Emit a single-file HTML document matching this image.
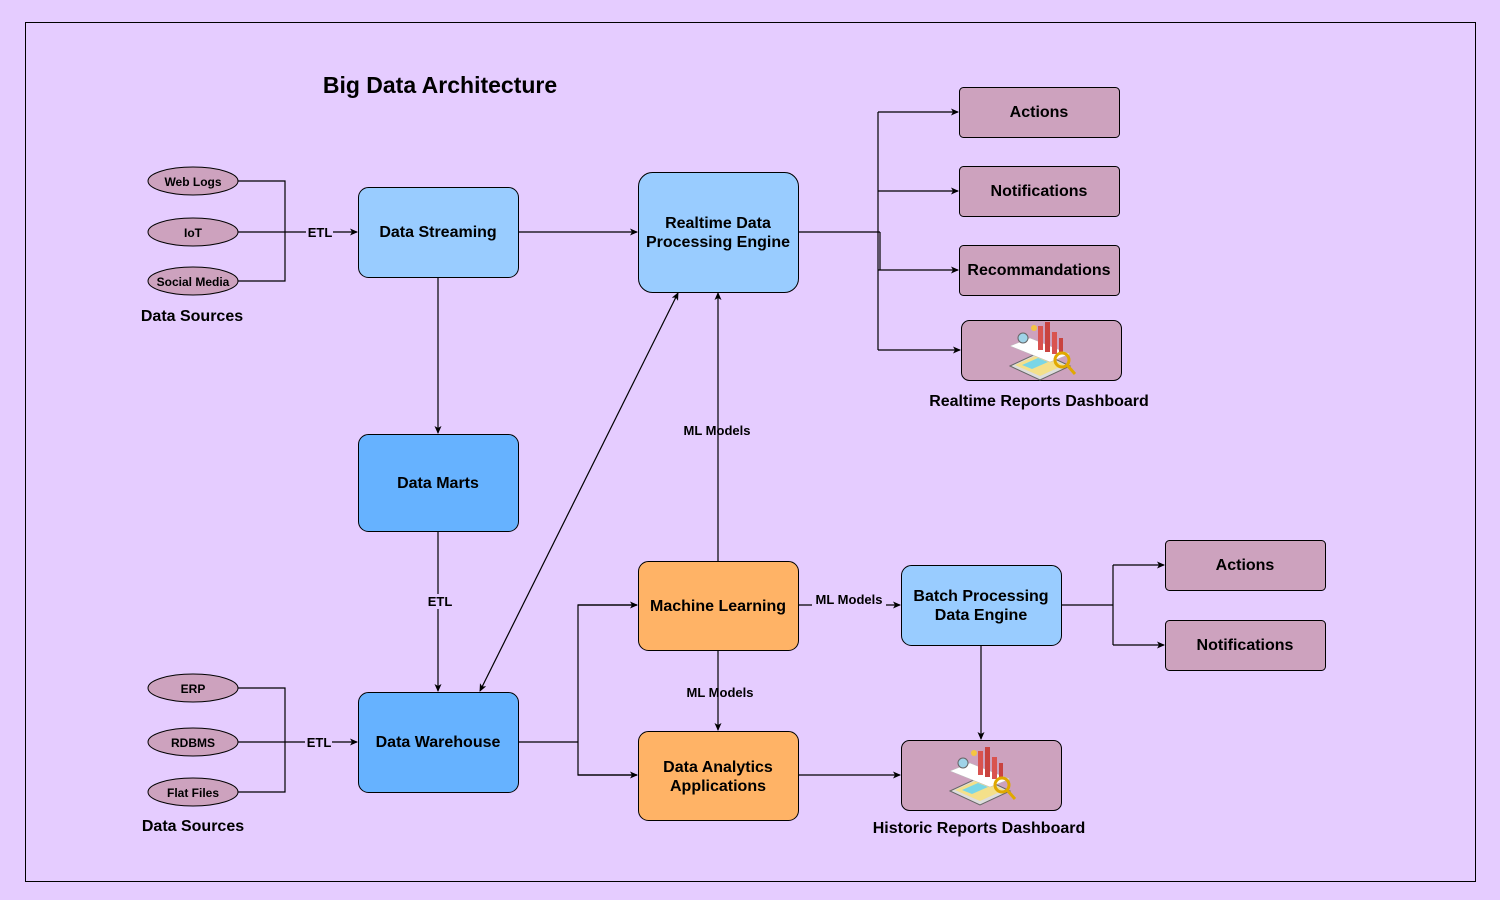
<!DOCTYPE html>
<html><head><meta charset="utf-8"><style>
html,body{margin:0;padding:0;background:#e5ccff;}
svg{display:block;font-family:"Liberation Sans",Arial,sans-serif;}
</style></head><body>
<svg width="1500" height="900" viewBox="0 0 1500 900" xmlns="http://www.w3.org/2000/svg">
<defs>
<marker id="a" markerWidth="8" markerHeight="8" refX="7" refY="4" orient="auto" markerUnits="userSpaceOnUse"><path d="M0,0.5 L8,4 L0,7.5 L2,4 Z" fill="#000"/></marker>
<marker id="s" markerWidth="8" markerHeight="8" refX="1" refY="4" orient="auto" markerUnits="userSpaceOnUse"><path d="M8,0.5 L0,4 L8,7.5 L6,4 Z" fill="#000"/></marker>
<g id="dash">
<polygon points="-30,18 0,4 30,18 0,32" fill="#ddd" stroke="#666" stroke-width="1"/>
<polygon points="-25,17 0,6 24,17 0,28" fill="#f4e08a"/>
<polygon points="-18,17 -2,10 8,14 -8,21" fill="#7ad6e6"/>
<polygon points="-30,-2 -10,-10 30,6 10,14" fill="#fff" stroke="#bbb" stroke-width="0.5"/>
<rect x="-2" y="-22" width="5" height="24" fill="#d9534f"/>
<rect x="5" y="-26" width="5" height="30" fill="#c9433f"/>
<rect x="12" y="-16" width="5" height="22" fill="#d9534f"/>
<rect x="19" y="-10" width="4" height="16" fill="#c9433f"/>
<circle cx="-17" cy="-10" r="5" fill="#9fd3e8" stroke="#666"/>
<circle cx="-6" cy="-20" r="3" fill="#f4c542"/>
<circle cx="22" cy="12" r="7" fill="none" stroke="#e0a800" stroke-width="3"/>
<line x1="27" y1="17" x2="35" y2="26" stroke="#e0a800" stroke-width="3"/>
</g>
</defs>
<rect x="25.5" y="22.5" width="1450" height="859" fill="#e5ccff" stroke="#000" stroke-width="1"/>
<text x="440" y="93" font-size="23" font-weight="bold" text-anchor="middle">Big Data Architecture</text>

<g stroke="#000" stroke-width="1.2" fill="none">
<polyline points="238,181 285,181 285,281 238,281"/>
<line x1="238" y1="232" x2="357" y2="232" marker-end="url(#a)"/>
<polyline points="238,688 285,688 285,792 238,792"/>
<line x1="238" y1="742" x2="357" y2="742" marker-end="url(#a)"/>
<line x1="518" y1="232" x2="637" y2="232" marker-end="url(#a)"/>
<line x1="438" y1="277" x2="438" y2="433" marker-end="url(#a)"/>
<line x1="438" y1="531" x2="438" y2="691" marker-end="url(#a)"/>
<line x1="678" y1="293" x2="480" y2="691" marker-end="url(#a)" marker-start="url(#s)"/>
<line x1="718" y1="561" x2="718" y2="293" marker-end="url(#a)"/>
<line x1="798" y1="605" x2="900" y2="605" marker-end="url(#a)"/>
<line x1="718" y1="650" x2="718" y2="730" marker-end="url(#a)"/>
<line x1="518" y1="742" x2="578" y2="742"/>
<polyline points="637,605 578,605 578,775 637,775"/>
<line x1="578" y1="605" x2="637" y2="605" marker-end="url(#a)"/>
<line x1="578" y1="775" x2="637" y2="775" marker-end="url(#a)"/>
<line x1="798" y1="775" x2="900" y2="775" marker-end="url(#a)"/>
<line x1="981" y1="645" x2="981" y2="739" marker-end="url(#a)"/>
<line x1="1061" y1="605" x2="1113" y2="605"/>
<line x1="1113" y1="565" x2="1113" y2="645"/>
<line x1="1113" y1="565" x2="1164" y2="565" marker-end="url(#a)"/>
<line x1="1113" y1="645" x2="1164" y2="645" marker-end="url(#a)"/>
<line x1="798" y1="232" x2="880" y2="232"/>
<line x1="880" y1="232" x2="880" y2="270"/>
<line x1="878" y1="112" x2="878" y2="350"/>
<line x1="878" y1="112" x2="958" y2="112" marker-end="url(#a)"/>
<line x1="878" y1="191" x2="958" y2="191" marker-end="url(#a)"/>
<line x1="878" y1="270" x2="958" y2="270" marker-end="url(#a)"/>
<line x1="878" y1="350" x2="960" y2="350" marker-end="url(#a)"/>
</g>

<g stroke="#000" stroke-width="1" fill="#cda2be">
<ellipse cx="193" cy="181" rx="45" ry="14"/>
<ellipse cx="193" cy="232" rx="45" ry="14"/>
<ellipse cx="193" cy="281" rx="45" ry="14"/>
<ellipse cx="193" cy="688" rx="45" ry="14"/>
<ellipse cx="193" cy="742" rx="45" ry="14"/>
<ellipse cx="193" cy="792" rx="45" ry="14"/>
<rect x="959.5" y="87.5" width="160" height="50" rx="4"/>
<rect x="959.5" y="166.5" width="160" height="50" rx="4"/>
<rect x="959.5" y="245.5" width="160" height="50" rx="4"/>
<rect x="961.5" y="320.5" width="160" height="60" rx="8"/>
<rect x="1165.5" y="540.5" width="160" height="50" rx="4"/>
<rect x="1165.5" y="620.5" width="160" height="50" rx="4"/>
<rect x="901.5" y="740.5" width="160" height="70" rx="8"/>
<rect x="358.5" y="187.5" width="160" height="90" rx="10" fill="#99ccff"/>
<rect x="638.5" y="172.5" width="160" height="120" rx="14" fill="#99ccff"/>
<rect x="358.5" y="434.5" width="160" height="97" rx="10" fill="#66b2ff"/>
<rect x="358.5" y="692.5" width="160" height="100" rx="10" fill="#66b2ff"/>
<rect x="638.5" y="561.5" width="160" height="89" rx="10" fill="#ffb366"/>
<rect x="638.5" y="731.5" width="160" height="89" rx="10" fill="#ffb366"/>
<rect x="901.5" y="565.5" width="160" height="80" rx="10" fill="#99ccff"/>
</g>
<use href="#dash" x="1040" y="348"/>
<use href="#dash" x="980" y="773"/>

<g font-size="12" font-weight="bold" text-anchor="middle">
<text x="193" y="186">Web Logs</text>
<text x="193" y="237">IoT</text>
<text x="193" y="286">Social Media</text>
<text x="193" y="693">ERP</text>
<text x="193" y="747">RDBMS</text>
<text x="193" y="797">Flat Files</text>
</g>
<g font-size="13" font-weight="bold" text-anchor="middle">
<rect x="306" y="225" width="27" height="15" fill="#e5ccff"/>
<text x="320" y="237">ETL</text>
<rect x="305" y="735" width="27" height="15" fill="#e5ccff"/>
<text x="319" y="747">ETL</text>
<rect x="427" y="594" width="27" height="15" fill="#e5ccff"/>
<text x="440" y="606">ETL</text>
<text x="717" y="435">ML Models</text>
<rect x="812" y="592" width="74" height="14" fill="#e5ccff"/>
<text x="849" y="604">ML Models</text>
<text x="720" y="697">ML Models</text>
</g>
<g font-size="16" font-weight="bold" text-anchor="middle">
<text x="192" y="321">Data Sources</text>
<text x="193" y="831">Data Sources</text>
<text x="438" y="237">Data Streaming</text>
<text x="718" y="228">Realtime Data</text>
<text x="718" y="247">Processing Engine</text>
<text x="438" y="488">Data Marts</text>
<text x="438" y="747">Data Warehouse</text>
<text x="718" y="611">Machine Learning</text>
<text x="718" y="772">Data Analytics</text>
<text x="718" y="791">Applications</text>
<text x="981" y="601">Batch Processing</text>
<text x="981" y="620">Data Engine</text>
<text x="1039" y="117">Actions</text>
<text x="1039" y="196">Notifications</text>
<text x="1039" y="275">Recommandations</text>
<text x="1039" y="406">Realtime Reports Dashboard</text>
<text x="1245" y="570">Actions</text>
<text x="1245" y="650">Notifications</text>
<text x="979" y="833">Historic Reports Dashboard</text>
</g>
</svg>
</body></html>
